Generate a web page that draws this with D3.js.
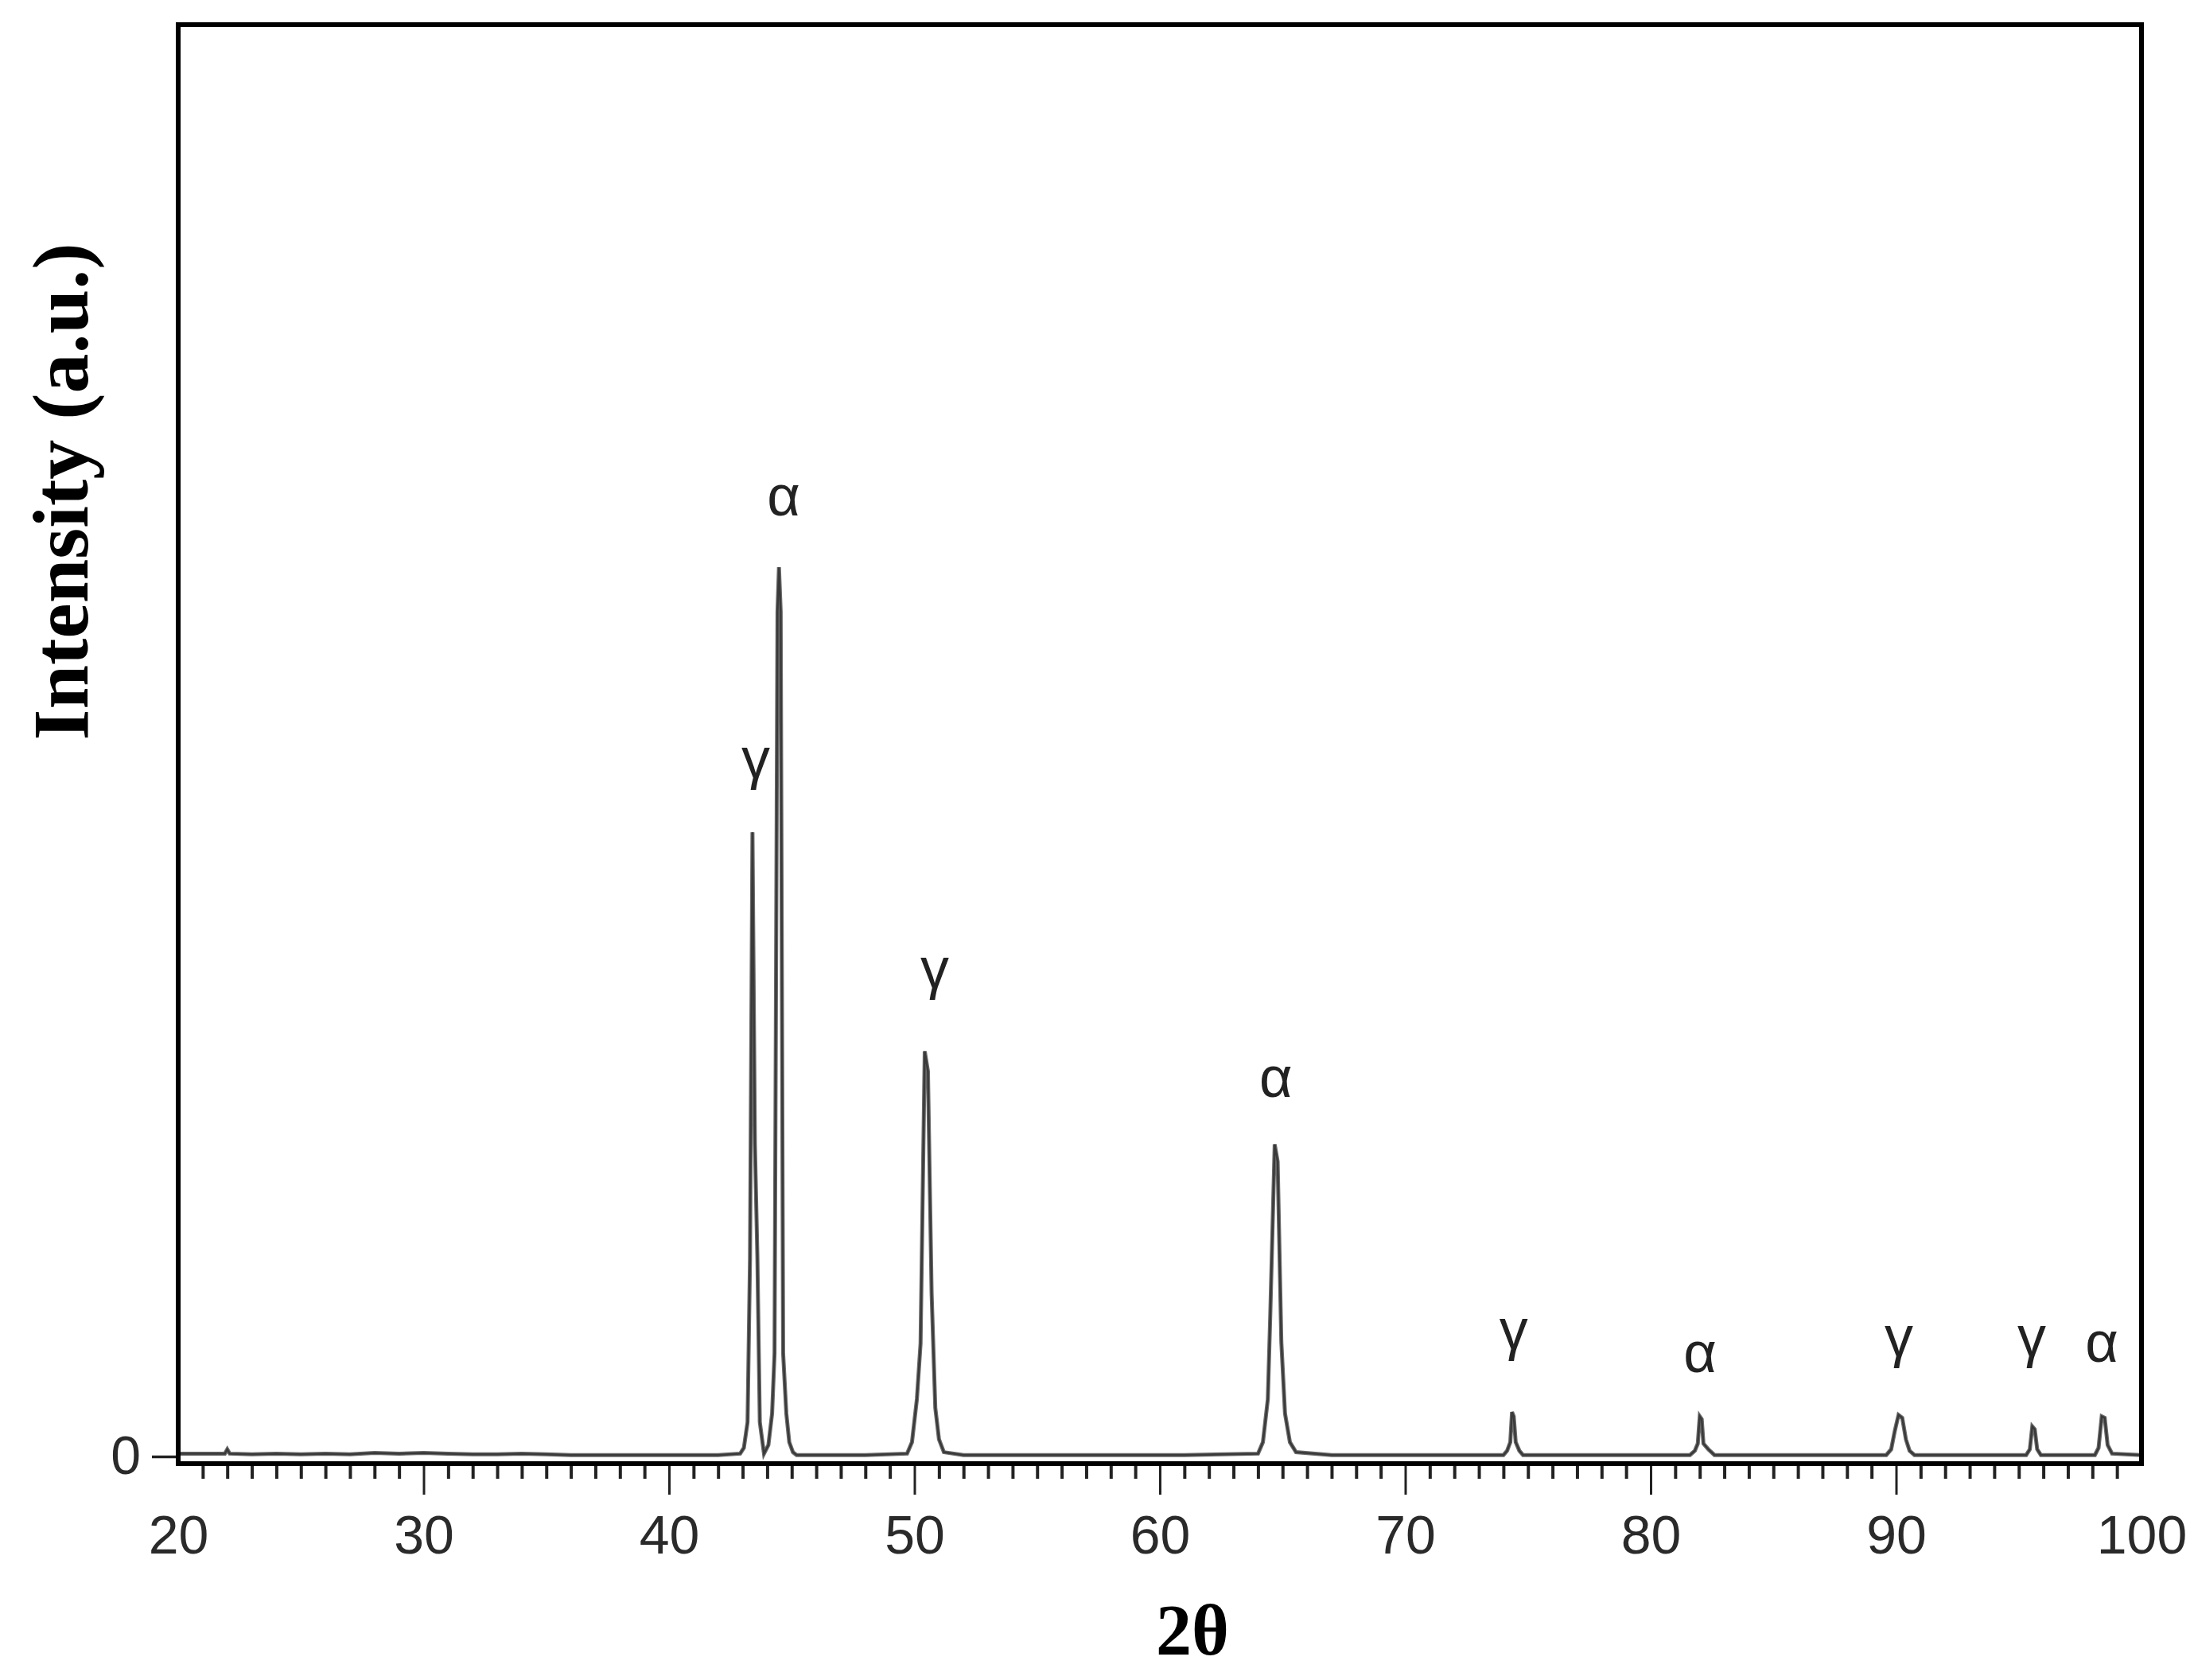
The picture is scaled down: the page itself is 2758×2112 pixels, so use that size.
<!DOCTYPE html>
<html>
<head>
<meta charset="utf-8">
<script src="https://cdn.jsdelivr.net/npm/d3@7"></script>
<style>
  html, body { margin: 0; padding: 0; background: #ffffff; }
  svg { display: block; }
</style>
</head>
<body>
<script>
// ---------------- data ----------------
const twoTheta = [
  20, 21, 21.9, 22.0, 22.1, 23, 24, 25, 26, 27, 28, 29, 30, 31, 32, 33, 34, 35, 36, 38, 40, 42, 42.9,
  43.05, 43.2, 43.3, 43.4, 43.5, 43.6, 43.7, 43.87,
  44.05, 44.2, 44.3, 44.42, 44.48, 44.55, 44.65, 44.78, 44.9, 45.05, 45.2,
  46, 48, 49.7, 49.9, 50.1, 50.25, 50.42, 50.55, 50.7, 50.85, 51.0, 51.2,
  52, 55, 58, 61, 64.0, 64.2, 64.4, 64.5, 64.68, 64.8, 64.95, 65.1, 65.3, 65.55,
  67, 70, 74.0, 74.15, 74.28, 74.35, 74.42, 74.5, 74.65, 74.8,
  78, 81.6, 81.8, 81.92, 82.0, 82.08, 82.15, 82.35, 82.6,
  86, 89.6, 89.8, 89.95, 90.1, 90.25, 90.4, 90.55, 90.75,
  93, 95.3, 95.45, 95.55, 95.65, 95.75, 95.9,
  98.1, 98.25, 98.38, 98.5, 98.62, 98.8, 100
];
const intensity = [
  2, 2, 2, 5, 2, 1.5, 2, 1.5, 2, 1.5, 2.5, 2, 2.5, 2, 1.5, 1.5, 2, 1.5, 1, 1, 1, 1, 2,
  6, 24, 138, 436, 218, 140, 24, 2,
  8, 30, 72, 590, 621, 590, 72, 30, 10, 3, 1,
  1, 1, 2, 10, 40, 79, 283, 269, 114, 34, 12, 3,
  1, 1, 1, 1, 2, 10, 40, 99, 218, 206, 80, 30, 10, 3,
  1, 1, 1, 4, 10, 31, 28, 10, 4, 1,
  1, 1, 4, 9, 28, 26, 9, 5, 1,
  1, 1, 5, 18, 29, 27, 12, 4, 1,
  1, 1, 5, 21, 19, 5, 1,
  1, 6, 28, 27, 8, 2, 1
];

// phase labels: symbol, 2θ position, intensity of text baseline
const peakLabels     = ["γ", "α", "γ", "α", "γ", "α", "γ", "γ", "α"];
const labelTheta     = [43.53, 44.67, 50.83, 64.73, 74.42, 82.01, 90.11, 95.53, 98.38];
const labelIntensity = [474, 657, 327, 251, 75, 59, 70, 70, 66];

const xMajorTicks = [30, 40, 50, 60, 70, 80, 90];
const xTickLabels = [20, 30, 40, 50, 60, 70, 80, 90, 100];
const xMinorTicks = d3.range(21, 100, 1);
const yTicks = [0];

const xTitle = "2θ";
const yTitle = "Intensity (a.u.)";

// ---------------- layout ----------------
const W = 2758, H = 2112;
const L = 224, R = 2692, T = 31, B = 1840;

const svg = d3.select("body").append("svg")
  .attr("width", W).attr("height", H)
  .style("background", "#fff");

const x = d3.scaleLinear().domain([20, 100]).range([L, R]);
const y = d3.scaleLinear().domain([-5, 1000]).range([B, T]);

const tickFont = "'Liberation Sans', Arial, sans-serif";
const serif = "'Liberation Serif', 'Times New Roman', serif";

// x minor ticks
const gMinor = svg.append("g")
  .attr("transform", `translate(0,${B + 3})`)
  .call(d3.axisBottom(x).tickValues(xMinorTicks.filter(v => v % 10 !== 0)).tickSize(16).tickFormat(""));
gMinor.select(".domain").remove();
gMinor.selectAll(".tick line").attr("stroke", "#222").attr("stroke-width", 4);

// x major ticks
const gMajor = svg.append("g")
  .attr("transform", `translate(0,${B + 3})`)
  .call(d3.axisBottom(x).tickValues(xMajorTicks).tickSize(36).tickFormat(""));
gMajor.select(".domain").remove();
gMajor.selectAll(".tick line").attr("stroke", "#222").attr("stroke-width", 3);

// x tick labels
const gLab = svg.append("g")
  .attr("transform", `translate(0,${B + 3})`)
  .call(d3.axisBottom(x).tickValues(xTickLabels).tickSize(0).tickPadding(62).tickFormat(d3.format("d")));
gLab.select(".domain").remove();
gLab.selectAll(".tick line").remove();
gLab.selectAll("text")
  .attr("font-family", tickFont).attr("font-size", 68).attr("fill", "#2a2a2a");

// y tick
const gY = svg.append("g")
  .attr("transform", `translate(${L - 3},0)`)
  .call(d3.axisLeft(y).tickValues(yTicks).tickSize(30).tickPadding(14).tickFormat(d3.format("d")));
gY.select(".domain").remove();
gY.selectAll(".tick line").attr("stroke", "#222").attr("stroke-width", 3.5);
gY.selectAll("text")
  .attr("font-family", tickFont).attr("font-size", 68).attr("fill", "#2a2a2a");

// data trace
const pts = twoTheta.map((t, i) => [t, intensity[i]]);
const line = d3.line().x(d => x(d[0])).y(d => y(d[1]));
svg.append("path")
  .datum(pts)
  .attr("d", line)
  .attr("fill", "none")
  .attr("stroke", "#6a6a6a")
  .attr("stroke-width", 5)
  .attr("stroke-linejoin", "miter");
svg.append("path")
  .datum(pts)
  .attr("d", line)
  .attr("fill", "none")
  .attr("stroke", "#3a3a3a")
  .attr("stroke-width", 2.5)
  .attr("stroke-linejoin", "miter");

// phase labels
svg.append("g").selectAll("text")
  .data(peakLabels)
  .join("text")
  .attr("x", (d, i) => x(labelTheta[i]))
  .attr("y", (d, i) => y(labelIntensity[i]))
  .attr("text-anchor", "middle")
  .attr("font-family", tickFont)
  .attr("font-size", 72)
  .attr("fill", "#222")
  .text(d => d);

// frame
svg.append("rect")
  .attr("x", L).attr("y", T)
  .attr("width", R - L).attr("height", B - T)
  .attr("fill", "none")
  .attr("stroke", "#000")
  .attr("stroke-width", 6);

// axis titles
svg.append("text")
  .attr("x", 1499)
  .attr("y", 2080)
  .attr("text-anchor", "middle")
  .attr("font-family", serif)
  .attr("font-weight", "bold")
  .attr("font-size", 90)
  .attr("fill", "#000")
  .text(xTitle);

svg.append("text")
  .attr("transform", `translate(${110},${618}) rotate(-90)`)
  .attr("text-anchor", "middle")
  .attr("font-family", serif)
  .attr("font-weight", "bold")
  .attr("font-size", 100)
  .attr("fill", "#000")
  .text(yTitle);
</script>
</body>
</html>
